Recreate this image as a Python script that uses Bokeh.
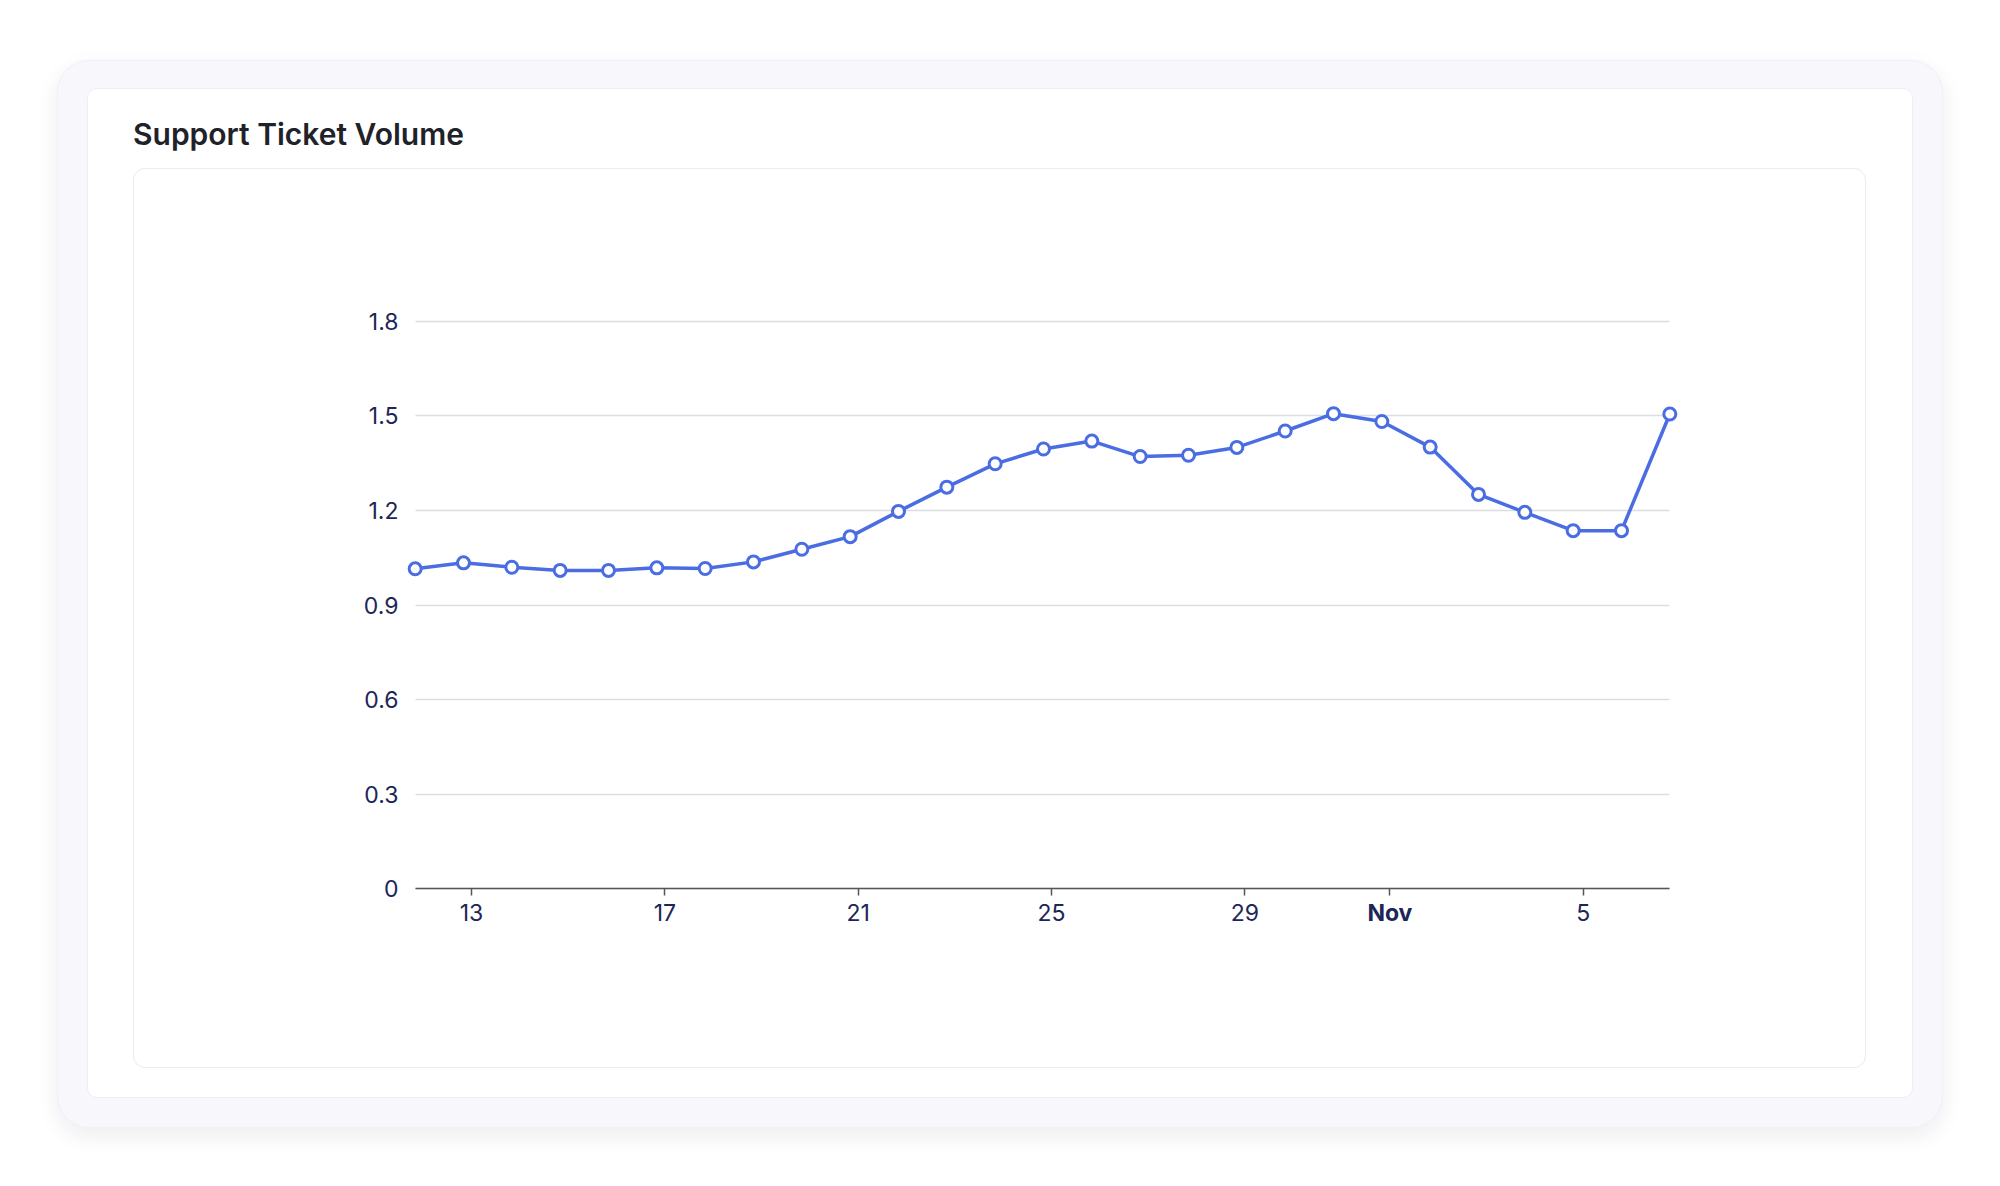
import pandas as pd
from bokeh.plotting import figure
from bokeh.layouts import column
from bokeh.models import (Div, Range1d, FixedTicker, DaysTicker, CustomJSTickFormatter,
                          ColumnDataSource, Grid, DatetimeAxis)
from bokeh.embed import file_html
from bokeh.resources import INLINE

# daily ticket volume (dates are UTC midnights, shown in US eastern time)
dates = ["2024-10-12", "2024-10-13", "2024-10-14", "2024-10-15", "2024-10-16",
         "2024-10-17", "2024-10-18", "2024-10-19", "2024-10-20", "2024-10-21",
         "2024-10-22", "2024-10-23", "2024-10-24", "2024-10-25", "2024-10-26",
         "2024-10-27", "2024-10-28", "2024-10-29", "2024-10-30", "2024-10-31",
         "2024-11-01", "2024-11-02", "2024-11-03", "2024-11-04", "2024-11-05",
         "2024-11-06", "2024-11-07"]
tickets = [1.015, 1.034, 1.020, 1.010, 1.010, 1.018, 1.016, 1.037, 1.077, 1.117,
           1.197, 1.274, 1.348, 1.395, 1.420, 1.371, 1.375, 1.400, 1.452, 1.507,
           1.482, 1.401, 1.251, 1.194, 1.136, 1.136, 1.506]
y_ticks = [0, 0.3, 0.6, 0.9, 1.2, 1.5, 1.8]
tick_days = [1, 5, 9, 13, 17, 21, 25, 29]

TEXT = "#1c2657"
BLUE = "#4a6de3"
FONT = "Inter"
LABEL_SIZE = "23px"

x = (pd.to_datetime(dates).tz_localize("UTC")
     .tz_convert("America/New_York").tz_localize(None))
src = ColumnDataSource(data=dict(x=x, y=tickets))

# the frame reaches below zero so the x axis (pinned at 0) and its labels sit inside it
pad = pd.Timedelta(hours=4.8)
p = figure(width=1733, height=900, x_axis_type="datetime",
           x_range=Range1d(x[0] - pad, x[-1] + pad), y_range=Range1d(-0.17, 1.85),
           output_backend="svg", toolbar_location=None,
           min_border_left=271, min_border_right=188,
           min_border_top=136, min_border_bottom=127)
p.border_fill_alpha = 0
p.background_fill_alpha = 0
p.outline_line_color = None
p.styles = {"border": "1px solid #ebebf1", "border-radius": "12px",
            "background": "#ffffff"}

p.line("x", "y", source=src, line_color=BLUE, line_width=3.5)
p.scatter("x", "y", source=src, size=12, fill_color="white",
          line_color=BLUE, line_width=3)

# y axis
p.yaxis.ticker = FixedTicker(ticks=y_ticks)
p.yaxis.formatter = CustomJSTickFormatter(code="return String(Number(tick.toFixed(2)))")
p.yaxis.axis_line_color = None
p.yaxis.major_tick_line_color = None
p.yaxis.minor_tick_line_color = None
p.yaxis.major_label_standoff = 1
p.yaxis.major_label_text_color = TEXT
p.yaxis.major_label_text_font = FONT
p.yaxis.major_label_text_font_size = LABEL_SIZE

# x axis: day numbers, month names drawn by a second (bold) axis at the same spot
t0 = x[0].value / 1e6
t1 = x[-1].value / 1e6
xa = p.xaxis[0]
xa.ticker = DaysTicker(days=tick_days)
xa.formatter = CustomJSTickFormatter(code="""
const d = new Date(tick);
return d.getUTCDate() == 1 ? "" : String(d.getUTCDate());
""")
xa.fixed_location = 0
xa.bounds = (t0, t1)
xa.axis_line_color = "#555555"
xa.axis_line_width = 1.5
xa.major_tick_line_color = "#555555"
xa.major_tick_line_width = 1.5
xa.major_tick_in = 0
xa.major_tick_out = 7
xa.minor_tick_line_color = None
xa.major_label_standoff = 8
xa.major_label_text_color = TEXT
xa.major_label_text_font = FONT
xa.major_label_text_font_size = LABEL_SIZE

month_axis = DatetimeAxis(
    ticker=DaysTicker(days=[1]),
    formatter=CustomJSTickFormatter(code="""
const m = ["Jan","Feb","Mar","Apr","May","Jun","Jul","Aug","Sep","Oct","Nov","Dec"];
return m[new Date(tick).getUTCMonth()];
"""),
    fixed_location=0, bounds=(t0, t1),
    axis_line_color=None, major_tick_line_color=None, minor_tick_line_color=None,
    major_tick_in=0, major_tick_out=7, major_label_standoff=3,
    major_label_text_color=TEXT, major_label_text_font=FONT,
    major_label_text_font_size=LABEL_SIZE, major_label_text_font_style="bold")
p.add_layout(month_axis, "below")

p.xgrid.grid_line_color = None
p.ygrid.grid_line_color = "#dcdde3"
p.ygrid.grid_line_width = 1.5
if "cross_bounds" in Grid.properties():
    p.ygrid.cross_bounds = (t0, t1)

title = Div(text="Support Ticket Volume", margin=(0, 0, 17, 0),
            styles={"font-family": FONT, "font-size": "30px", "font-weight": "600",
                    "color": "#1f2329", "line-height": "34px"})

inner = column(title, p, margin=0,
               styles={"background": "#ffffff", "border": "1px solid #ededf3",
                       "border-radius": "10px", "padding": "28px 46px 29px 45px"})
outer = column(inner, margin=(60, 0, 0, 57),
               styles={"background": "#f7f7fc", "border": "1px solid #f0f0f6",
                       "border-radius": "32px", "padding": "27px 29px 29px 29px",
                       "box-shadow": "0 8px 22px rgba(20, 20, 60, 0.08)"})

open("out.html", "w").write(file_html(outer, INLINE))
